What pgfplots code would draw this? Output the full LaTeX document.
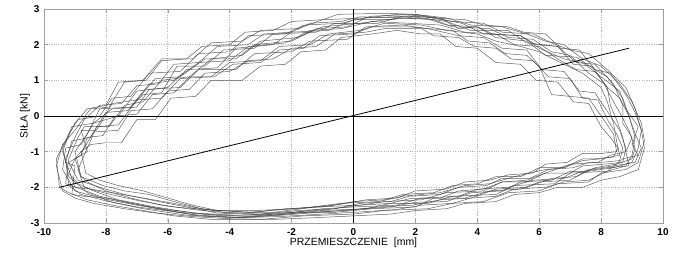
\documentclass[border=0pt]{standalone}
\usepackage{pgfplots}
\pgfplotsset{compat=1.18}
\usepackage{fontspec}
\setmainfont{Liberation Sans}
\pgfplotsset{hloop/.style={line width=0.5pt, black!78, opacity=0.8, no markers}}
\begin{document}
\begin{tikzpicture}
\begin{axis}[
  scale only axis, width=619bp, height=214bp,
  xmin=-10, xmax=10, ymin=-3, ymax=3,
  xtick={-10,-8,-6,-4,-2,0,2,4,6,8,10},
  ytick={-3,-2,-1,0,1,2,3},
  grid=major, grid style={dotted, gray!60, line width=0.7pt},
  axis line style={gray!75, line width=0.9pt},
  tick style={gray!75, line width=0.6pt},
  /pgf/number format/assume math mode=true,
  tick label style={font=\fontsize{10}{12}\selectfont\bfseries},
  xticklabel style={yshift=-2bp},
  yticklabel style={xshift=-1bp},
  xlabel={PRZEMIESZCZENIE\ \ [mm]},
  ylabel={SIŁA [kN]},
  label style={font=\fontsize{10.5}{12}\selectfont},
  xlabel style={yshift=4bp},
  ylabel style={yshift=-6bp},
]
% zero lines
\addplot[black, line width=0.9pt] coordinates {(-10,0) (10,0)};
\addplot[black, line width=0.9pt] coordinates {(0,-3) (0,3)};
% loop A
\addplot[hloop] coordinates {(-9.3,-1.9) (-9.2,-1.2) (-8.9,-0.6) (-8.7,-0.3) (-7.9,-0.3) (-7.4,0.3) (-6.8,0.4) (-6.2,1.0) (-5.3,1.1) (-4.6,1.6) (-3.6,1.7) (-3.0,2.1) (-1.8,2.2) (-1.0,2.5) (0.2,2.6) (1.5,2.75) (2.6,2.7) (3.2,2.5) (4.4,2.45) (5.0,2.2) (5.8,2.15) (6.4,1.8) (7.0,1.7) (7.6,1.2) (8.1,0.9) (8.4,0.4) (8.6,0.1) (8.9,-0.4) (9.1,-0.9) (9.0,-1.2) (8.5,-1.35) (7.8,-1.45) (7.2,-1.7) (6.4,-1.75) (5.6,-2.0) (4.6,-2.05) (3.8,-2.3) (2.8,-2.35) (1.9,-2.5) (0.8,-2.55) (-0.2,-2.65) (-1.5,-2.7) (-2.8,-2.8) (-4.2,-2.8) (-5.6,-2.7) (-6.6,-2.55) (-7.4,-2.4) (-8.2,-2.25) (-8.8,-2.05) (-9.3,-1.9)};
% loop B
\addplot[hloop] coordinates {(-9.0,-2.1) (-9.4,-1.5) (-9.3,-0.9) (-8.8,-0.8) (-8.4,-0.2) (-7.6,0.0) (-7.0,0.7) (-6.0,0.8) (-5.4,1.3) (-4.4,1.35) (-3.8,1.9) (-2.6,2.0) (-2.0,2.35) (-0.8,2.4) (0.0,2.7) (1.2,2.7) (2.2,2.8) (3.5,2.6) (4.2,2.3) (5.4,2.25) (6.0,1.9) (6.8,1.6) (7.4,1.5) (8.0,1.1) (8.6,0.7) (8.8,0.2) (9.2,-0.3) (9.0,-0.8) (9.2,-1.1) (8.7,-1.2) (8.2,-1.55) (7.0,-1.6) (6.5,-1.9) (5.2,-1.95) (4.6,-2.2) (3.2,-2.25) (2.4,-2.45) (1.2,-2.45) (0.4,-2.6) (-1.0,-2.65) (-2.2,-2.75) (-3.6,-2.85) (-5.0,-2.8) (-6.0,-2.65) (-7.0,-2.5) (-7.9,-2.35) (-8.6,-2.2) (-9.0,-2.1)};
% loop C
\addplot[hloop] coordinates {(-8.8,-1.7) (-9.0,-1.0) (-8.6,-0.5) (-8.2,0.2) (-7.2,0.25) (-6.6,0.9) (-5.8,1.0) (-5.0,1.5) (-4.0,1.55) (-3.4,1.95) (-2.2,2.05) (-1.4,2.4) (-0.4,2.45) (0.6,2.65) (1.8,2.6) (2.8,2.55) (3.6,2.35) (4.6,2.3) (5.2,2.0) (6.0,1.95) (6.6,1.6) (7.2,1.3) (7.8,1.25) (8.2,0.8) (8.3,0.3) (8.5,-0.1) (8.7,-0.6) (8.8,-1.0) (8.3,-1.1) (7.9,-1.3) (7.0,-1.35) (6.2,-1.6) (5.6,-1.8) (4.8,-1.85) (4.2,-2.1) (3.0,-2.15) (2.2,-2.35) (1.0,-2.4) (0.2,-2.5) (-1.2,-2.55) (-2.6,-2.7) (-4.0,-2.72) (-5.2,-2.62) (-6.2,-2.5) (-7.2,-2.3) (-8.0,-2.1) (-8.6,-1.85) (-8.8,-1.7)};
% loop D
\addplot[hloop] coordinates {(-9.5,-2.0) (-9.6,-1.2) (-9.2,-0.5) (-8.9,-0.1) (-8.2,0.0) (-7.8,0.5) (-7.2,0.55) (-6.6,1.2) (-5.6,1.25) (-5.0,1.75) (-4.0,1.8) (-3.4,2.25) (-2.2,2.3) (-1.6,2.55) (-0.4,2.6) (0.6,2.8) (2.0,2.85) (3.0,2.75) (3.8,2.55) (4.8,2.5) (5.6,2.3) (6.2,2.1) (6.8,2.0) (7.4,1.6) (8.0,1.4) (8.6,0.9) (9.0,0.4) (9.3,-0.2) (9.4,-0.7) (9.2,-1.3) (8.8,-1.5) (8.0,-1.6) (7.6,-1.85) (6.6,-1.9) (6.0,-2.1) (5.0,-2.15) (4.2,-2.4) (3.2,-2.45) (2.4,-2.6) (1.0,-2.65) (0.0,-2.75) (-1.6,-2.8) (-3.0,-2.9) (-4.6,-2.9) (-5.8,-2.8) (-6.8,-2.65) (-7.8,-2.5) (-8.6,-2.35) (-9.2,-2.15) (-9.5,-2.0)};
% loop E
\addplot[hloop] coordinates {(-9.1,-2.2) (-9.0,-1.4) (-9.3,-1.3) (-9.1,-0.7) (-8.5,-0.6) (-8.0,0.1) (-7.3,0.15) (-6.8,0.6) (-6.2,0.65) (-5.7,1.4) (-4.8,1.4) (-4.2,1.85) (-3.2,1.9) (-2.6,2.3) (-1.2,2.35) (-0.6,2.6) (0.8,2.6) (1.6,2.8) (2.8,2.75) (3.4,2.45) (4.0,2.5) (4.6,2.2) (5.6,2.1) (6.2,1.7) (7.2,1.65) (7.8,1.3) (8.2,1.1) (8.7,0.5) (8.9,0.0) (9.1,-0.5) (9.3,-0.9) (9.1,-1.3) (8.4,-1.4) (7.6,-1.5) (7.0,-1.8) (6.0,-1.85) (5.4,-2.05) (4.4,-2.1) (3.6,-2.3) (2.6,-2.3) (2.0,-2.55) (0.6,-2.6) (-0.6,-2.7) (-2.0,-2.7) (-3.4,-2.82) (-4.8,-2.75) (-6.2,-2.6) (-7.2,-2.45) (-8.0,-2.3) (-8.7,-2.25) (-9.1,-2.2)};
% loop F
\addplot[hloop] coordinates {(-8.9,-1.9) (-9.2,-1.6) (-9.0,-1.2) (-8.6,-1.0) (-8.8,-0.4) (-8.3,-0.4) (-7.8,0.35) (-7.0,0.45) (-6.4,1.05) (-5.6,1.1) (-4.8,1.6) (-3.8,1.6) (-3.2,2.0) (-2.0,2.1) (-1.2,2.45) (-0.2,2.5) (0.4,2.75) (1.8,2.8) (3.0,2.65) (3.8,2.4) (5.0,2.4) (5.6,2.05) (6.6,1.95) (7.2,1.5) (7.8,1.45) (8.4,0.9) (8.7,0.3) (8.7,-0.2) (9.0,-0.6) (8.8,-1.0) (8.9,-1.4) (8.2,-1.45) (7.4,-1.55) (6.8,-1.75) (5.8,-1.8) (5.0,-2.0) (4.0,-2.05) (3.4,-2.25) (2.2,-2.3) (1.4,-2.5) (0.0,-2.55) (-1.0,-2.6) (-2.4,-2.75) (-3.8,-2.78) (-5.2,-2.72) (-6.4,-2.55) (-7.6,-2.35) (-8.4,-2.1) (-8.9,-1.9)};
% loop G
\addplot[hloop] coordinates {(-9.2,-1.7) (-9.4,-0.9) (-9.0,-0.2) (-8.6,0.2) (-8.0,0.3) (-7.6,0.95) (-6.8,1.0) (-6.2,1.6) (-5.2,1.6) (-4.6,2.05) (-3.6,2.1) (-3.0,2.4) (-1.8,2.45) (-1.0,2.7) (0.4,2.75) (1.4,2.85) (2.4,2.8) (3.2,2.65) (4.2,2.6) (4.8,2.35) (5.8,2.3) (6.4,2.05) (7.0,1.85) (7.6,1.75) (8.2,1.3) (8.8,0.8) (9.1,0.2) (9.3,-0.4) (9.2,-0.9) (9.0,-1.3) (8.4,-1.45) (7.6,-1.55) (7.0,-1.55) (6.4,-1.8) (5.4,-1.85) (4.8,-2.1) (3.8,-2.15) (3.0,-2.4) (2.0,-2.42) (1.2,-2.55) (0.0,-2.62) (-1.4,-2.72) (-2.6,-2.8) (-4.0,-2.85) (-5.4,-2.78) (-6.8,-2.6) (-7.8,-2.42) (-8.6,-2.15) (-9.2,-1.7)};
% loop H
\addplot[hloop] coordinates {(-8.7,-2.0) (-8.9,-1.5) (-8.6,-0.9) (-8.3,-0.3) (-7.6,-0.25) (-7.0,0.45) (-6.2,0.5) (-5.6,1.05) (-4.6,1.1) (-4.0,1.5) (-3.0,1.55) (-2.4,1.95) (-1.4,2.0) (-0.8,2.3) (0.2,2.4) (1.0,2.6) (2.2,2.55) (3.0,2.4) (4.0,2.3) (4.6,2.1) (5.4,1.95) (6.0,1.8) (6.8,1.45) (7.4,1.2) (8.0,0.8) (8.2,0.4) (8.4,-0.2) (8.5,-0.7) (8.6,-1.1) (8.0,-1.2) (7.4,-1.25) (6.8,-1.45) (6.2,-1.5) (5.2,-1.7) (4.4,-1.9) (3.6,-1.95) (2.8,-2.15) (1.6,-2.25) (0.8,-2.4) (-0.4,-2.45) (-1.8,-2.6) (-3.2,-2.65) (-4.4,-2.65) (-5.8,-2.55) (-6.8,-2.4) (-7.6,-2.25) (-8.3,-2.1) (-8.7,-2.0)};
% loop I
\addplot[hloop] coordinates {(-8.65,-1.6) (-8.8,-1.0) (-8.5,-0.8) (-8.0,-0.75) (-7.5,-0.75) (-7.0,-0.1) (-6.4,-0.1) (-5.9,0.5) (-5.1,0.55) (-4.6,1.0) (-3.6,1.0) (-3.0,1.4) (-2.2,1.45) (-1.7,1.8) (-0.9,1.85) (-0.4,2.2) (0.6,2.3) (1.4,2.4) (2.2,2.3) (2.8,2.3) (3.3,1.95) (4.0,1.9) (4.6,1.5) (5.4,1.45) (5.9,1.0) (6.6,0.95) (7.1,0.4) (7.6,0.35) (8.0,-0.3) (8.3,-0.6) (8.55,-0.9) (8.4,-1.15) (7.8,-1.2) (7.4,-1.2) (6.8,-1.45) (6.0,-1.45) (5.4,-1.7) (4.6,-1.7) (4.0,-1.9) (3.2,-1.95) (2.6,-2.15) (1.6,-2.2) (1.0,-2.35) (0.0,-2.4) (-1.0,-2.55) (-2.2,-2.6) (-3.2,-2.7) (-4.4,-2.65) (-5.2,-2.5) (-6.0,-2.3) (-6.8,-2.1) (-7.6,-1.95) (-8.2,-1.8) (-8.65,-1.6)};
% loop J
\addplot[hloop] coordinates {(-8.8,-1.7) (-9.0,-1.2) (-8.7,-0.9) (-8.4,-0.45) (-7.6,-0.4) (-7.2,0.15) (-6.5,0.2) (-6.0,0.7) (-5.3,0.75) (-4.8,1.2) (-4.0,1.25) (-3.4,1.55) (-2.6,1.6) (-2.0,1.9) (-1.2,1.95) (-0.6,2.3) (0.4,2.35) (1.0,2.45) (2.2,2.45) (2.6,2.25) (3.4,2.2) (3.9,1.95) (4.6,1.9) (5.1,1.6) (5.8,1.55) (6.3,1.1) (7.0,1.05) (7.4,0.5) (7.9,0.45) (8.2,-0.1) (8.5,-0.5) (8.7,-0.9) (8.6,-1.25) (8.0,-1.3) (7.6,-1.3) (7.1,-1.45) (6.3,-1.5) (5.7,-1.75) (4.8,-1.75) (4.3,-1.95) (3.4,-2.0) (2.8,-2.2) (1.8,-2.25) (1.2,-2.4) (0.2,-2.45) (-0.6,-2.6) (-1.8,-2.65) (-3.0,-2.75) (-4.2,-2.7) (-5.0,-2.58) (-5.8,-2.4) (-6.6,-2.2) (-7.4,-2.1) (-8.1,-1.95) (-8.8,-1.7)};
% loop K
\addplot[hloop] coordinates {(-9.4,-2.1) (-9.6,-1.4) (-9.4,-0.8) (-9.0,-0.4) (-8.5,0.2) (-7.9,0.25) (-7.4,0.95) (-6.7,1.0) (-6.2,1.55) (-5.4,1.6) (-4.9,1.95) (-4.0,2.0) (-3.5,2.35) (-2.6,2.4) (-2.0,2.65) (-1.0,2.7) (-0.5,2.85) (1.0,2.88) (2.0,2.85) (2.6,2.75) (3.6,2.7) (4.2,2.55) (5.0,2.5) (5.5,2.35) (6.2,2.3) (6.7,1.9) (7.3,1.85) (7.8,1.3) (8.3,1.2) (8.8,0.6) (9.1,0.1) (9.3,-0.4) (9.4,-0.9) (9.2,-1.5) (8.6,-1.7) (8.0,-1.8) (7.4,-2.0) (6.6,-2.0) (6.0,-2.15) (5.2,-2.2) (4.6,-2.4) (3.6,-2.45) (3.0,-2.6) (2.0,-2.65) (1.2,-2.75) (0.0,-2.8) (-1.2,-2.85) (-2.6,-2.9) (-4.0,-2.88) (-5.2,-2.82) (-6.4,-2.72) (-7.4,-2.6) (-8.4,-2.45) (-9.0,-2.3) (-9.4,-2.1)};
% loop L
\addplot[hloop] coordinates {(-9.2,-1.95) (-9.3,-1.2) (-9.0,-0.6) (-8.7,-0.1) (-8.2,0.3) (-7.5,0.35) (-7.0,0.85) (-6.3,0.9) (-5.8,1.45) (-5.0,1.5) (-4.4,1.95) (-3.4,2.0) (-2.9,2.3) (-2.0,2.35) (-1.4,2.6) (-0.4,2.65) (0.2,2.78) (1.6,2.75) (2.4,2.72) (3.0,2.55) (4.0,2.5) (4.5,2.3) (5.4,2.25) (5.9,2.0) (6.6,1.95) (7.1,1.45) (7.7,1.4) (8.2,0.8) (8.6,0.5) (8.9,0.0) (9.1,-0.6) (9.0,-1.1) (8.8,-1.4) (8.2,-1.55) (7.6,-1.8) (6.8,-1.85) (6.2,-2.0) (5.2,-2.05) (4.6,-2.25) (3.8,-2.3) (3.2,-2.45) (2.2,-2.5) (1.4,-2.62) (0.4,-2.68) (-1.0,-2.75) (-2.4,-2.82) (-3.6,-2.85) (-5.0,-2.78) (-6.0,-2.66) (-7.0,-2.55) (-8.0,-2.38) (-8.8,-2.2) (-9.2,-1.95)};
% loop M
\addplot[hloop] coordinates {(-8.9,-1.8) (-9.2,-1.3) (-8.8,-1.1) (-8.6,-0.6) (-8.1,-0.55) (-7.7,0.0) (-7.0,0.05) (-6.5,0.6) (-5.8,0.65) (-5.3,1.1) (-4.5,1.1) (-3.9,1.45) (-3.0,1.5) (-2.4,1.85) (-1.6,1.9) (-1.1,2.25) (0.0,2.3) (0.6,2.5) (1.8,2.5) (2.4,2.45) (3.2,2.4) (3.7,2.1) (4.4,2.05) (4.9,1.75) (5.6,1.7) (6.1,1.3) (6.8,1.25) (7.3,0.7) (7.8,0.65) (8.3,0.0) (8.6,-0.4) (8.8,-0.9) (8.7,-1.3) (8.1,-1.35) (7.4,-1.4) (7.0,-1.6) (6.2,-1.6) (5.6,-1.85) (4.8,-1.85) (4.2,-2.05) (3.4,-2.1) (2.8,-2.3) (1.8,-2.32) (1.2,-2.45) (0.2,-2.5) (-0.8,-2.62) (-2.0,-2.7) (-3.2,-2.76) (-4.4,-2.72) (-5.4,-2.55) (-6.4,-2.38) (-7.4,-2.2) (-8.2,-2.0) (-8.9,-1.8)};
% loop N
\addplot[hloop] coordinates {(-9.0,-2.0) (-9.4,-1.0) (-9.1,-0.3) (-8.4,-0.2) (-7.8,0.2) (-7.0,0.25) (-6.6,0.75) (-5.6,0.8) (-5.0,1.3) (-3.8,1.3) (-3.2,1.75) (-2.0,1.8) (-1.4,2.1) (-0.2,2.15) (0.4,2.5) (1.6,2.55) (2.4,2.45) (3.4,2.25) (4.2,2.2) (4.8,1.9) (5.6,1.85) (6.0,1.4) (6.4,0.6) (7.0,0.55) (7.6,0.5) (8.0,0.0) (8.4,-0.5) (8.5,-1.0) (8.0,-1.05) (7.4,-1.05) (6.9,-1.3) (6.2,-1.35) (5.8,-1.6) (5.0,-1.65) (4.4,-1.8) (3.6,-1.85) (3.0,-2.05) (2.0,-2.1) (1.4,-2.3) (0.4,-2.35) (-0.6,-2.5) (-2.0,-2.6) (-3.4,-2.7) (-4.8,-2.62) (-5.8,-2.45) (-6.8,-2.3) (-7.8,-2.15) (-8.5,-2.05) (-9.0,-2.0)};
% straight line
\addplot[black, line width=0.8pt] coordinates {(-9.5,-2.0) (8.9,1.9)};
\end{axis}
\pgfresetboundingbox
\path ([shift={(-44bp,-32bp)}]current axis.south west) rectangle ([shift={(33bp,9bp)}]current axis.north east);
\end{tikzpicture}
\end{document}
